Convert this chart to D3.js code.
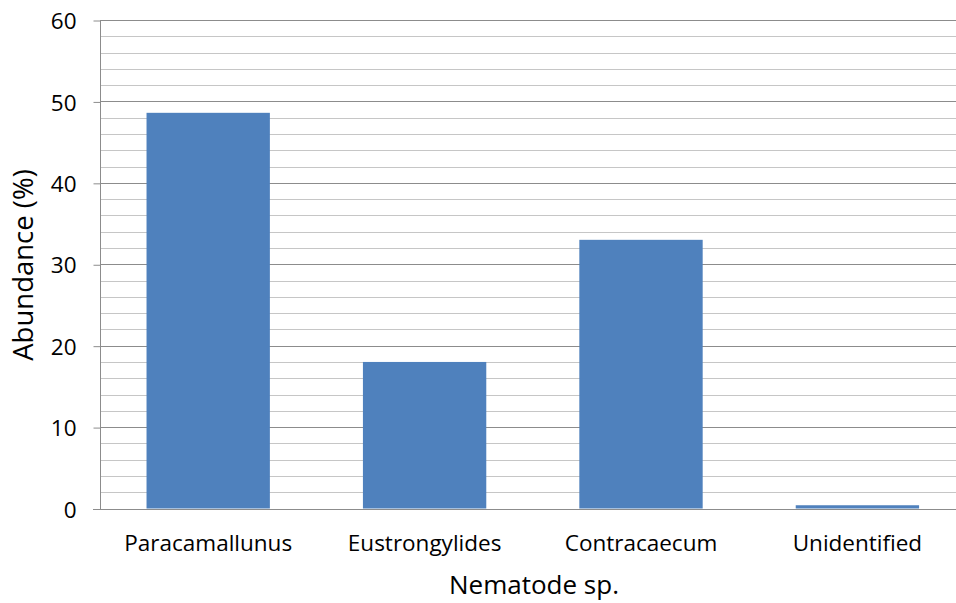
<!DOCTYPE html>
<html><head><meta charset="utf-8">
<script src="https://cdn.jsdelivr.net/npm/d3@7"></script>
<style>body{margin:0;background:#fff;overflow:hidden}</style>
</head><body>
<svg id="c" width="956" height="603"></svg>
<script>
const categories = ["Paracamallunus","Eustrongylides","Contracaecum","Unidentified"];
const values = [48.6, 18.0, 33.0, 0.4];
const yMajorTicks = [0,10,20,30,40,50,60];
const yMinorTicks = [2,4,6,8,12,14,16,18,22,24,26,28,32,34,36,38,42,44,46,48,52,54,56,58];
const xTitle = "Nematode sp.";
const yTitle = "Abundance (%)";

const svg = d3.select("#c");
const font = "'Open Sans', 'Noto Sans', sans-serif";
const pL = 100, pR = 965.6, pT = 20, pB = 508.5;
const x = d3.scaleBand().domain(categories).range([pL, pR]).paddingInner(0.43).paddingOuter(0.215);
const y = d3.scaleLinear().domain([0,60]).range([pB, pT]);

// minor gridlines
svg.append("g").selectAll("line").data(yMinorTicks).join("line")
  .attr("x1", pL).attr("x2", pR)
  .attr("y1", d=>Math.round(y(d))+0.5).attr("y2", d=>Math.round(y(d))+0.5)
  .attr("stroke", "#c6c6c6").attr("stroke-width", 1);
// major gridlines
svg.append("g").selectAll("line").data(yMajorTicks).join("line")
  .attr("x1", pL).attr("x2", pR)
  .attr("y1", d=>Math.round(y(d))+0.5).attr("y2", d=>Math.round(y(d))+0.5)
  .attr("stroke", "#8c8c8c").attr("stroke-width", 1);

// bars
svg.append("g").selectAll("rect").data(categories).join("rect")
  .attr("x", d=>x(d)).attr("width", x.bandwidth())
  .attr("y", (d,i)=>y(values[i])).attr("height", (d,i)=>y(0)-y(values[i]))
  .attr("fill", "#4f81bd");

// y axis
const yAxis = d3.axisLeft(y).tickValues(yMajorTicks).tickSize(7).tickPadding(17);
const gy = svg.append("g").attr("transform", `translate(${pL+0.5},0.5)`).call(yAxis);
gy.select(".domain").attr("stroke", "#8c8c8c").attr("d", `M0,${pT}V${pB}`);
gy.selectAll(".tick line").attr("stroke", "#8c8c8c");
gy.selectAll(".tick text").attr("font-family", font).attr("font-size", 22.5).attr("fill", "#000").attr("dy", "0.36em");

// x axis
const xAxis = d3.axisBottom(x).tickSize(0);
const gx = svg.append("g").attr("transform", `translate(0,${Math.round(pB)+0.5})`).call(xAxis);
gx.select(".domain").attr("stroke", "#8c8c8c").attr("d", `M${pL-7},0H${pR}`);
gx.selectAll(".tick text").attr("font-family", font).attr("font-size", 22.5).attr("fill", "#000")
  .attr("y", 41).attr("dy", 0);

// titles
svg.append("text").attr("x", 534).attr("y", 594)
  .attr("text-anchor", "middle").attr("font-family", font).attr("font-size", 26).text(xTitle);
svg.append("text").attr("transform", "translate(33,265) rotate(-90)")
  .attr("text-anchor", "middle").attr("font-family", font).attr("font-size", 27.5).text(yTitle);
</script>
</body></html>
